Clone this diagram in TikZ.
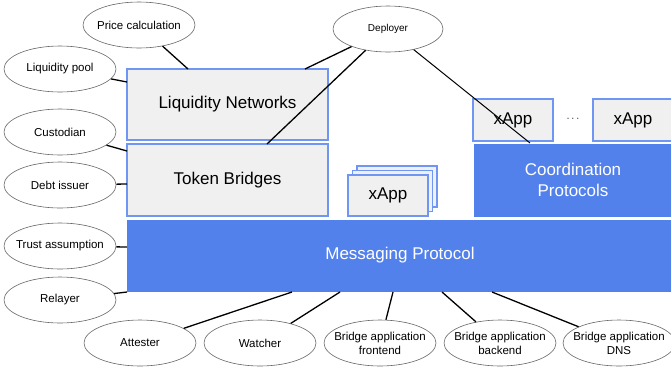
\documentclass[tikz,border=0pt]{standalone}
\usepackage{fontspec}
\setmainfont{Liberation Sans}
\usetikzlibrary{shapes.geometric}

\definecolor{layerblue}{HTML}{5381EC}
\definecolor{edgeblue}{HTML}{6F96F2}
\definecolor{boxgrey}{HTML}{F0F0F0}

\begin{document}
\begin{tikzpicture}[x=1pt, y=-1pt,
    role/.style={ellipse, draw=black!60, line width=0.6pt, fill=white, minimum width=112pt, minimum height=46pt, inner xsep=-30pt, inner ysep=-10pt, align=center, font=\fontsize{11.5}{14}\selectfont},
    layer/.style={rectangle, draw=edgeblue, line width=1.5pt, fill=boxgrey, inner sep=0pt, align=center, font=\fontsize{17}{20}\selectfont},
    proto/.style={rectangle, draw=white, line width=1pt, fill=layerblue, inner sep=0pt, align=center, text=white, font=\fontsize{17}{21.5}\selectfont},
    link/.style={draw=black, line width=1.3pt}]

      \useasboundingbox (0,0) rectangle (671,373);

      % layers
      \node (mp) at (400,255.5) [proto, minimum width=548pt, minimum height=73pt] {Messaging Protocol};
      \node (ln) at (227.5,104.5) [layer, minimum width=201pt, minimum height=71pt] {Liquidity Networks};
      \node (tb) at (227.5,180) [layer, minimum width=201pt, minimum height=72pt] {Token Bridges};
      \node (cp) at (573,180) [proto, minimum width=200pt, minimum height=74pt] {Coordination\\Protocols};

      \node (xa) at (513,120) [layer, minimum width=80pt, minimum height=42pt] {xApp};
      \node (xb) at (633,120) [layer, minimum width=80pt, minimum height=42pt] {xApp};
      \node (dots) at (573,119) {\fontsize{11}{12}\selectfont$\cdots$};

      % stacked xApps
      \node (xs3) at (397,186.5) [layer, line width=1.2pt, minimum width=80pt, minimum height=41pt] {};
      \node (xs2) at (392.5,191) [layer, line width=1.2pt, minimum width=80pt, minimum height=41pt] {};
      \node (xs1) at (388,195.5) [layer, line width=1.2pt, minimum width=80pt, minimum height=41pt] {xApp};

      % roles
      \node (price) at (139,25) [role] {Price calculation};
      \node (pool) at (60,69) [role] {Liquidity pool};
      \node (cust) at (60,132) [role] {Custodian};
      \node (debt) at (60,185) [role] {Debt issuer};
      \node (trust) at (60,246) [role] {Trust assumption};
      \node (relay) at (60,300) [role] {Relayer};
      \node (deploy) at (388,29) [role, minimum width=110pt, font=\fontsize{10}{12}\selectfont] {Deployer};

      \node (att) at (140,343) [role] {Attester};
      \node (watch) at (260,343) [role] {Watcher};
      \node (front) at (380,343) [role] {Bridge application\\frontend};
      \node (back) at (500,343) [role] {Bridge application\\backend};
      \node (dns) at (619,343) [role] {Bridge application\\DNS};

      % end points on the layers
      \coordinate (lnA) at (188,69);
      \coordinate (lnB) at (305,69);
      \coordinate (lnC) at (127,82);
      \coordinate (tbA) at (267,144);
      \coordinate (tbB) at (127,151);
      \coordinate (tbC) at (127,184);
      \coordinate (cpA) at (530,143);
      \coordinate (mpA) at (127,247);
      \coordinate (mpB) at (127,292);
      \coordinate (mpC) at (292,292);
      \coordinate (mpD) at (340,292);
      \coordinate (mpE) at (393,292);
      \coordinate (mpF) at (442,292);
      \coordinate (mpG) at (492,292);

      \draw[link] (price) -- (lnA);
      \draw[link] (pool) -- (lnC);
      \draw[link] (deploy) -- (lnB);
      \draw[link] (deploy) -- (tbA);
      \draw[link, line width=1pt] (deploy) -- (cpA);
      \draw[link] (cust) -- (tbB);
      \draw[link] (debt) -- (tbC);
      \draw[link] (trust) -- (mpA);
      \draw[link] (relay) -- (mpB);
      \draw[link] (att) -- (mpC);
      \draw[link] (watch) -- (mpD);
      \draw[link] (front) -- (mpE);
      \draw[link] (back) -- (mpF);
      \draw[link] (dns) -- (mpG);
    \end{tikzpicture}
\end{document}
